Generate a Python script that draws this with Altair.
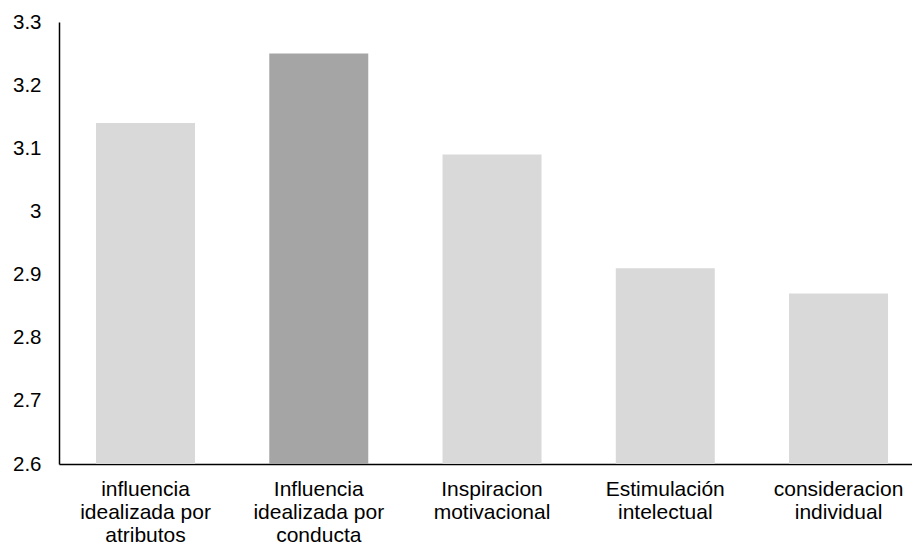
import altair as alt
import pandas as pd

# Dimension names (line breaks mark where each axis label wraps)
categories = [
    "influencia\nidealizada por\natributos",
    "Influencia\nidealizada por\nconducta",
    "Inspiracion\nmotivacional",
    "Estimulación\nintelectual",
    "consideracion\nindividual",
]
scores = [3.14, 3.25, 3.09, 2.91, 2.87]
bar_colors = ["#D9D9D9", "#A5A5A5", "#D9D9D9", "#D9D9D9", "#D9D9D9"]
y_ticks = [2.6, 2.7, 2.8, 2.9, 3.0, 3.1, 3.2, 3.3]

df = pd.DataFrame({"dimension": categories, "score": scores, "color": bar_colors})

FONT = "Liberation Sans"

chart = (
    alt.Chart(df)
    .mark_bar(clip=True)
    .encode(
        x=alt.X(
            "dimension:N",
            sort=categories,
            title=None,
            scale=alt.Scale(paddingInner=0.4286, paddingOuter=0.176, align=0.607),
            axis=alt.Axis(
                labelExpr="split(datum.label, '\\n')",
                labelAngle=0,
                labelAlign="center",
                labelBaseline="top",
                labelPadding=14,
                labelLineHeight=23,
                labelFontSize=21,
                labelFont=FONT,
                labelColor="#000000",
                ticks=False,
                domainColor="#000000",
                domainWidth=1.5,
                grid=False,
            ),
        ),
        y=alt.Y(
            "score:Q",
            title=None,
            scale=alt.Scale(domain=[2.6, 3.3], nice=False, zero=False),
            axis=alt.Axis(
                values=y_ticks,
                format=".1~f",
                labelPadding=18,
                labelFontSize=20.5,
                labelFont=FONT,
                labelColor="#000000",
                ticks=False,
                domainColor="#000000",
                domainWidth=1.5,
                grid=False,
            ),
        ),
        color=alt.Color("color:N", scale=None, legend=None),
    )
    .properties(
        width=853,
        height=442,
        autosize=alt.AutoSizeParams(type="none"),
        padding={"left": 59, "top": 22, "right": 0, "bottom": 80},
    )
    .configure_view(stroke=None)
)

chart.save("out.html", embed_options={"renderer": "svg", "actions": False})
